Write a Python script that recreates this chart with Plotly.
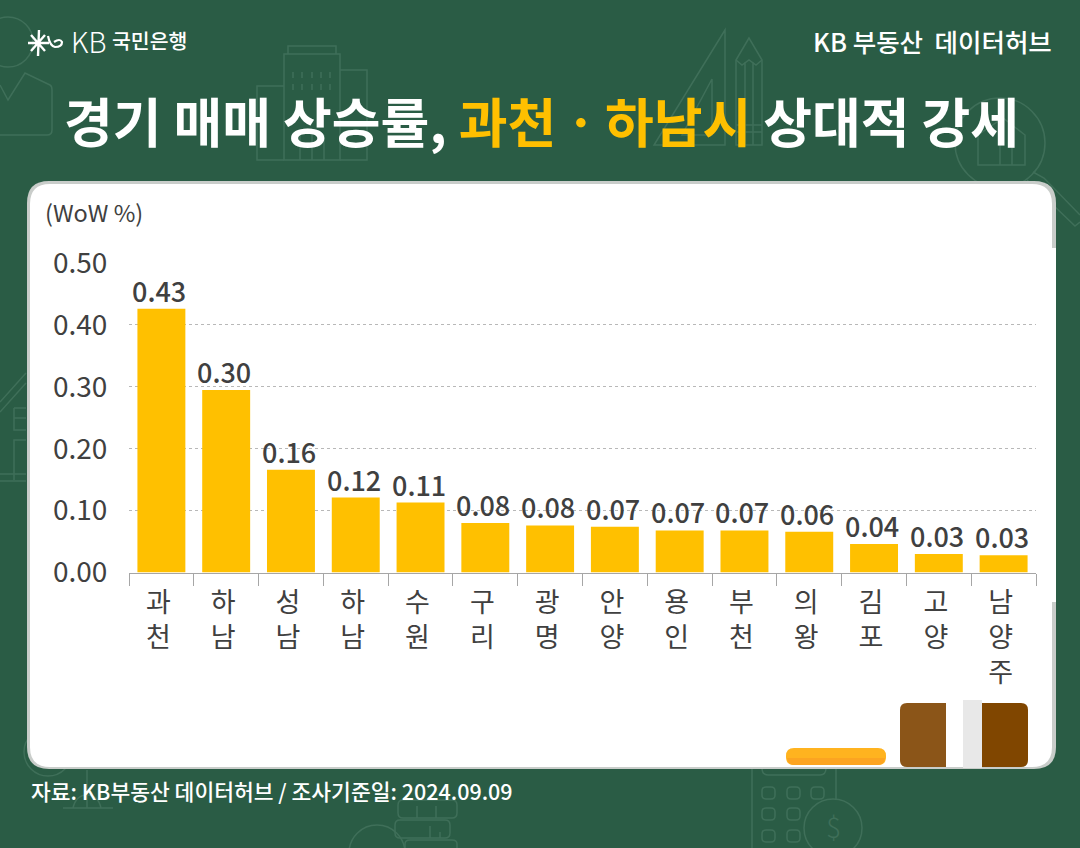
import plotly.graph_objects as go

# ---- data ----
cities = ["과천", "하남", "성남", "하남 ", "수원", "구리", "광명", "안양", "용인", "부천", "의왕", "김포", "고양", "남양주"]
values = [0.426, 0.295, 0.166, 0.121, 0.113, 0.080, 0.076, 0.074, 0.068, 0.068, 0.066, 0.046, 0.030, 0.028]
labels = ["0.43", "0.30", "0.16", "0.12", "0.11", "0.08", "0.08", "0.07", "0.07", "0.07", "0.06", "0.04", "0.03", "0.03"]
y_ticks = [0.0, 0.1, 0.2, 0.3, 0.4, 0.5]
y_ticklabels = ["0.00", "0.10", "0.20", "0.30", "0.40", "0.50"]
unit = "(WoW %)"
source = "자료: KB부동산 데이터허브 / 조사기준일: 2024.09.09"

FONT = "Noto Sans CJK KR"
GREEN = "#2a5c45"
ICON = "#3f6f59"
DARK = "#404040"
YELLOW = "#ffc000"


def rrect(x0, y0, x1, y1, r):
    return (f"M{x0+r},{y0} L{x1-r},{y0} Q{x1},{y0} {x1},{y0+r} L{x1},{y1-r} Q{x1},{y1} {x1-r},{y1} "
            f"L{x0+r},{y1} Q{x0},{y1} {x0},{y1-r} L{x0},{y0+r} Q{x0},{y0} {x0+r},{y0} Z")


def px_shape(path=None, fill=None, line=None, width=1.5):
    return dict(type="path", path=path, xref="x", yref="y", layer="below",
                fillcolor=fill if fill else "rgba(0,0,0,0)",
                line=dict(color=line if line else "rgba(0,0,0,0)", width=width if line else 0))


def circle(cx, cy, r, fill=None, line=ICON, width=1.5):
    return dict(type="circle", xref="x", yref="y", x0=cx-r, x1=cx+r, y0=cy-r, y1=cy+r, layer="below",
                fillcolor=fill if fill else "rgba(0,0,0,0)",
                line=dict(color=line if line else "rgba(0,0,0,0)", width=width if line else 0))


icons = [
    # left chart icon
    circle(8, 42, 25),
    px_shape("M0,85 L8,100 L25,73 L50,85 Q52,86 52,90 L52,130 Q52,135 47,135 L0,135", line=ICON),
    # buildings
    px_shape("M288,54 L288,46 L336,46 L336,54", line=ICON),
    px_shape("M284,160 L284,54 L340,54 L340,160 Z", line=ICON),
    px_shape("M284,86 L257,86 L257,160 L284,160", line=ICON),
    px_shape("M340,70 L367,70 L367,160 L340,160", line=ICON),
    px_shape("M300,135 L300,160 M312,135 L312,160 M324,135 L324,160", line=ICON),
    px_shape("M293,72 L293,78 M302,72 L302,78 M312,72 L312,78 M321,72 L321,78 M330,72 L330,78 "
             "M293,84 L293,90 M302,84 L302,90 M312,84 L312,90 M321,84 L321,90 M330,84 L330,90", line=ICON),
    # ruler triangle and pencil
    px_shape("M725,30 L654,145 L725,145 Z", line=ICON),
    px_shape("M712,79 L682,135 L712,135 Z", line=ICON),
    px_shape("M749,38 L736,60 L736,145 L762,145 L762,60 Z", line=ICON),
    px_shape("M736,60 L742,65 L749,60 L756,65 L762,60 M745,62 L745,145 M753,62 L753,145 M736,125 L762,125 M736,132 L762,132",
             line=ICON),
    # magnifier
    circle(1000, 143, 45),
    px_shape("M1033,172 L1044,178 L1080,215 M1027,180 L1075,226 L1080,222", line=ICON),
    px_shape("M978,165 L978,135 L1003,118 L1025,135 L1025,165 Z M1000,165 L1000,145 M1012,165 L1012,145", line=ICON),
    # left house
    px_shape("M0,402 L26,373 M0,412 L26,383", line=ICON),
    px_shape("M14,408 L26,408 M14,408 L14,430 L26,430 M14,418 L26,418", line=ICON),
    px_shape("M14,480 L14,440 L26,440 M0,474 L26,474 M0,481 L26,481", line=ICON),
    # scale
    px_shape("M63,808 L113,808 M87,770 L87,808 M73,808 Q76,795 87,795 Q98,795 101,808", line=ICON),
    circle(48, 752, 24),
    # calculator
    px_shape("M752,768 L752,848 M836,768 L836,800 M762,768 Q762,775 768,775 L820,775 Q826,775 826,768", line=ICON),
    px_shape(rrect(762, 787, 775, 799, 4), line=ICON),
    px_shape(rrect(787, 787, 800, 799, 4), line=ICON),
    px_shape(rrect(811, 787, 824, 799, 4), line=ICON),
    px_shape(rrect(762, 808, 775, 820, 4), line=ICON),
    px_shape(rrect(787, 808, 800, 820, 4), line=ICON),
    px_shape(rrect(762, 830, 775, 842, 4), line=ICON),
    px_shape(rrect(787, 830, 800, 842, 4), line=ICON),
    circle(833, 828, 29),
    # coins
    px_shape(rrect(398, 800, 457, 818, 5), line=ICON),
    px_shape(rrect(395, 820, 450, 838, 5), line=ICON),
    px_shape("M405,848 L405,844 Q405,840 410,840 L452,840 Q457,840 457,844 L457,848", line=ICON),
    px_shape("M417,806 L417,818 M436,806 L436,818 M430,826 L430,838 M440,832 L440,838", line=ICON),
    circle(377, 853, 28),
]

card = [
    px_shape(rrect(27, 181, 1056, 769, 22), fill="#c9cdca"),
    px_shape(rrect(30, 184, 1052, 767, 20), fill="#ffffff"),
    px_shape("M1040,248 L1056,248 L1056,602 L1040,602 Z", fill="#ffffff"),
]

blocks = [
    px_shape(rrect(786, 748, 886, 765, 8), fill="#ffb31f"),
    px_shape("M787,758 L885,758 Q884,765 878,765 L794,765 Q788,765 787,758 Z", fill="#fca421"),
    px_shape("M907,703 L946,703 L946,767 L907,767 Q900,767 900,760 L900,710 Q900,703 907,703 Z", fill="#8b5518"),
    px_shape("M963,700 L982,700 L982,768 L963,768 Z", fill="#e8e8e8"),
    px_shape("M982,703 L1021,703 Q1028,703 1028,710 L1028,760 Q1028,767 1021,767 L982,767 Z", fill="#804600"),
]

logo = [
    px_shape("M28,43 L49,43 M31,35 L45,51 M45,35 L31,51 M39,30 L38,56", line="#ffffff", width=2.4),
    px_shape("M48,36 Q50,46 55,47 Q62,47 62,42 Q60,38 54,42", line="#ffffff", width=2.2),
]

fig = go.Figure()
fig.add_trace(go.Bar(
    x=cities, y=values,
    marker=dict(color=YELLOW, line=dict(width=0)), xaxis="x2", yaxis="y2", width=0.74,
    showlegend=False, hoverinfo="skip",
))


def txt(x, y, s, size, color, anchor="left", weight=400):
    return dict(x=x, y=y, text=s, xref="x", yref="y", showarrow=False, xanchor=anchor, yanchor="middle",
                font=dict(family=FONT, size=size, color=color, weight=weight))


value_labels = [
    dict(x=c, y=v, text=t, xref="x2", yref="y2", showarrow=False, xanchor="center", yanchor="bottom",
         xshift=-2, yshift=-3, font=dict(family=FONT, size=27, color=DARK, weight=500))
    for c, v, t in zip(cities, values, labels)
]

annotations = [
    txt(833, 826, "$", 28, ICON, "center", 300),
    txt(541, 120, f'경기 매매 상승률, <span style="color:{YELLOW}">과천ㆍ하남시</span> 상대적 강세', 53, "#ffffff", "center", 700),
    txt(1054, 40, "KB 부동산  데이터허브", 25.5, "#ffffff", "right", 500),
    txt(69, 41, "KB", 28, "#ffffff", "left", 300),
    txt(189, 40, "국민은행", 20.5, "#ffffff", "right", 500),
    txt(43, 212, unit, 23.5, DARK),
    txt(29, 790, source, 21.5, "#ffffff", "left", 500),
] + value_labels

fig.update_layout(
    width=1080, height=848, margin=dict(l=0, r=0, t=0, b=0, autoexpand=False), autosize=False,
    paper_bgcolor=GREEN, plot_bgcolor="rgba(0,0,0,0)",
    font=dict(family=FONT, color=DARK),
    shapes=icons + card + blocks + logo,
    annotations=annotations,
    xaxis=dict(domain=[0, 1], range=[0, 1080], visible=False, anchor="y", fixedrange=True),
    yaxis=dict(domain=[0, 1], range=[848, 0], visible=False, anchor="x", fixedrange=True),
    xaxis2=dict(
        domain=[129 / 1080, 1036 / 1080], anchor="y2", type="category",
        tickmode="array", tickvals=cities, ticktext=["<br>".join(c.strip()) for c in cities],
        tickson="boundaries", ticks="outside", ticklen=12, tickwidth=1.2, tickcolor="#a6a6a6",
        showline=True, linecolor="#a6a6a6", linewidth=1.2, showgrid=False, ticklabelshift=-3,
        ticklabelstandoff=6,
        tickfont=dict(family=FONT, size=27, color=DARK), tickangle=0, fixedrange=True,
    ),
    yaxis2=dict(
        domain=[1 - 572.5 / 848, 1 - 263 / 848], anchor="x2", range=[0, 0.5],
        tickmode="array", tickvals=y_ticks, ticktext=y_ticklabels,
        tickfont=dict(family=FONT, size=28, color=DARK), ticks="outside", ticklen=15, tickcolor="rgba(0,0,0,0)",
        showgrid=True, gridcolor="#b8b8b8", gridwidth=1, griddash="dot", zeroline=False,
        showline=False, fixedrange=True,
    ),
    bargap=0.26,
)

fig.write_html("out.html", config={"displayModeBar": False},
               post_script="document.body.style.margin='0';document.body.style.overflow='hidden';")
